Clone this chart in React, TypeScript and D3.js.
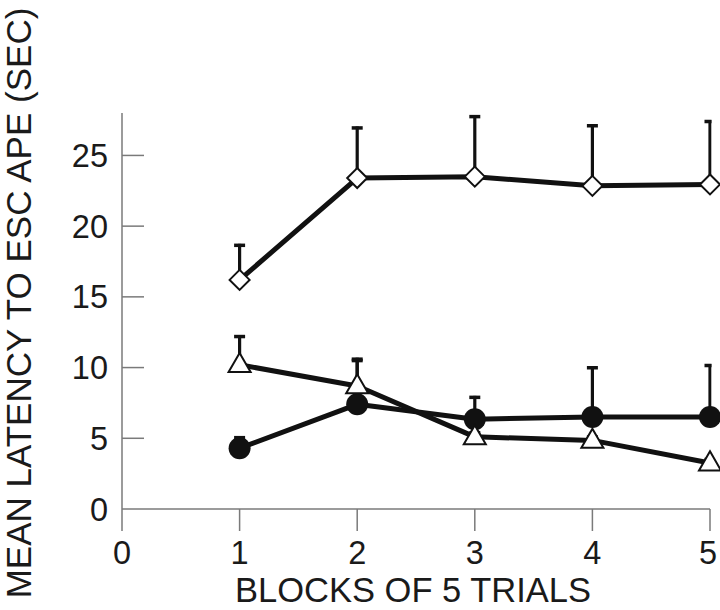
import React from 'react';
import * as d3 from 'd3';

// blocks of 5 trials
const blocks = [1, 2, 3, 4, 5];

// mean latency (sec) and top of the error bar for each group
const circleMeans = [4.3, 7.4, 6.35, 6.5, 6.5];
const circleTops = [5.15, 10.6, 8.0, 10.1, 10.25];

const triangleMeans = [10.2, 8.7, 5.1, 4.85, 3.25];
const triangleTops = [12.3, 10.7, 5.5, 5.2, 3.6];

const diamondMeans = [16.2, 23.4, 23.5, 22.85, 22.95];
const diamondTops = [18.75, 27.05, 27.85, 27.2, 27.5];

const xTicks = [0, 1, 2, 3, 4, 5];
const yTicks = [0, 5, 10, 15, 20, 25];

const xTitle = 'BLOCKS OF 5 TRIALS';
const yTitle = 'MEAN LATENCY TO ESC APE (SEC)';

const W = 720;
const H = 610;

export default function App() {
    // scales
    const x = d3.scaleLinear().domain([0, 5]).range([122, 710]);
    const y = d3.scaleLinear().domain([0, 28]).range([509, 113]);

    const line = d3.line<number>()
        .x((_, i) => x(blocks[i]))
        .y((d) => y(d));

    const font = '"Liberation Sans", Arial, Helvetica, sans-serif';
    const axisColor = '#7a7a7a';

    const series = [
        { key: 'circle', means: circleMeans, tops: circleTops },
        { key: 'triangle', means: triangleMeans, tops: triangleTops },
        { key: 'diamond', means: diamondMeans, tops: diamondTops },
    ];

    const triPath = d3.symbol().type(d3.symbolTriangle).size(210)();
    const diaPath = 'M0,-10L10,0L0,10L-10,0Z';

    const marker = (key: string, cx: number, cy: number, i: number) => {
        if (key === 'circle') {
            return <circle key={i} cx={cx} cy={cy} r={11} fill="#111" />;
        }
        if (key === 'triangle') {
            return (
                <path key={i} d={triPath as string} transform={`translate(${cx},${cy + 1})`}
                      fill="#fff" stroke="#111" strokeWidth={2} strokeLinejoin="miter" />
            );
        }
        return (
            <path key={i} d={diaPath} transform={`translate(${cx},${cy})`}
                  fill="#fff" stroke="#111" strokeWidth={2} />
        );
    };

    return (
        <svg width={W} height={H} style={{ position: 'absolute', left: 0, top: 0, background: '#fff' }}>
            <defs>
                <clipPath id="barClip">
                    <rect x={0} y={0} width={x(5) + 1.5} height={H} />
                </clipPath>
            </defs>

            {/* axes */}
            <g stroke={axisColor} strokeWidth={1.5} fill="none">
                <line x1={x(0)} x2={x(0)} y1={y(28)} y2={y(0) + 22} />
                <line x1={x(0)} x2={x(5)} y1={y(0)} y2={y(0)} />
                {yTicks.filter((t) => t > 0).map((t) => (
                    <line key={t} x1={x(0)} x2={x(0) + 22} y1={y(t)} y2={y(t)} />
                ))}
                {xTicks.filter((t) => t > 0).map((t) => (
                    <line key={t} x1={x(t)} x2={x(t)} y1={y(0)} y2={y(0) + 22} />
                ))}
            </g>

            {/* tick labels */}
            <g fontFamily={font} fontSize={32.5} fill="#1a1a1a">
                {yTicks.map((t) => (
                    <text key={t} x={108} y={y(t) + 11.5} textAnchor="end">{t}</text>
                ))}
                {xTicks.map((t) => (
                    <text key={t} x={t === 5 ? x(t) - 2 : x(t)} y={564} textAnchor="middle">{t}</text>
                ))}
            </g>

            {/* titles */}
            <text x={413} y={602} textAnchor="middle" fontFamily={font} fontSize={34.5} fill="#1a1a1a">
                {xTitle}
            </text>
            <text transform="translate(31,303) rotate(-90)" textAnchor="middle"
                  fontFamily={font} fontSize={35} fill="#1a1a1a">
                {yTitle}
            </text>

            {/* error bars */}
            <g clipPath="url(#barClip)" stroke="#111" fill="none">
                {series.map((s) => s.tops.map((t, i) => (
                    <g key={`${s.key}-${i}`}>
                        <line x1={x(blocks[i])} x2={x(blocks[i])} y1={y(s.means[i])} y2={y(t)} strokeWidth={3.2} />
                        <line x1={x(blocks[i]) - 5.5} x2={x(blocks[i]) + 5.5} y1={y(t) + 1.5} y2={y(t) + 1.5} strokeWidth={3.5} />
                    </g>
                )))}
            </g>

            {/* lines */}
            {series.map((s) => (
                <path key={s.key} d={line(s.means) as string} fill="none" stroke="#111"
                      strokeWidth={5} strokeLinejoin="round" />
            ))}

            {/* markers */}
            {series.map((s) => (
                <g key={s.key}>
                    {s.means.map((m, i) => marker(s.key, x(blocks[i]), y(m), i))}
                </g>
            ))}
        </svg>
    );
}
